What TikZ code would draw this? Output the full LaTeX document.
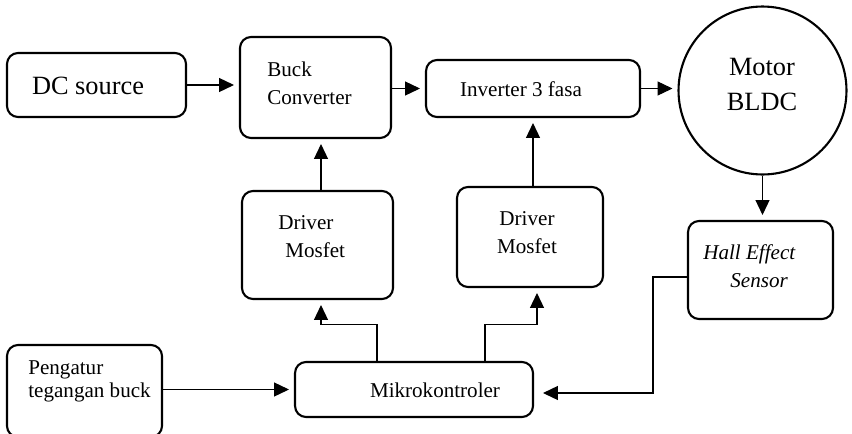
\documentclass[tikz,border=0pt]{standalone}
\usepackage{fontspec}
\setmainfont{Liberation Serif}
\usetikzlibrary{arrows.meta}
\tikzset{
  box/.style={draw, line width=1.2pt, rounded corners=0.22cm, inner sep=0pt},
  arr/.style={-{Triangle[length=8.5pt,width=8pt]}, line width=0.6pt, shorten >=0.1cm},
  txt/.style={font=\fontsize{12}{16}\selectfont, inner sep=0pt},
  bigtxt/.style={font=\fontsize{15}{20}\selectfont, inner sep=0pt}
}
\begin{document}
\begin{tikzpicture}[x=0.02cm,y=-0.02cm]
\useasboundingbox (0,0) rectangle (852,433);
\node[box, minimum width=3.58cm, minimum height=1.28cm] (dc) at (96.5,85) {};
\node[box, minimum width=3.02cm, minimum height=2.02cm] (buck) at (315.5,87.5) {};
\node[box, minimum width=4.28cm, minimum height=1.14cm] (inv) at (533,88.5) {};
\node[draw, circle, line width=1.2pt, minimum size=3.36cm, inner sep=0pt] (motor) at (762.5,90.5) {};
\node[box, minimum width=2.9cm, minimum height=1.96cm] (hall) at (760.5,270) {};
\node[box, minimum width=3.02cm, minimum height=2.16cm] (drv1) at (317.5,245) {};
\node[box, minimum width=2.92cm, minimum height=2cm] (drv2) at (530,237) {};
\node[box, minimum width=4.76cm, minimum height=1.1cm] (mcu) at (414,389.5) {};
\node[box, minimum width=3.1cm, minimum height=1.84cm] (reg) at (84.5,391) {};
\node[bigtxt] (dc-t) at (88,86) {DC source};
\node[txt, anchor=west, align=left] (buck-t) at (267,83) {Buck\\Converter};
\node[txt] (inv-t) at (521,89) {Inverter 3 fasa};
\node[bigtxt, align=center] (motor-t) at (762,84.5) {Motor\\BLDC};
\node[txt, anchor=west, align=left, font=\fontsize{12}{16}\selectfont\itshape] (hall-t) at (703,266) {Hall Effect\\\hspace*{0.54cm}Sensor};
\node[txt, anchor=west, align=left] (drv1-t) at (278,236.5) {Driver\\\hspace*{0.14cm}Mosfet};
\node[txt, align=center] (drv2-t) at (527,233) {Driver\\Mosfet};
\node[txt] (mcu-t) at (435,390) {Mikrokontroler};
\node[txt, anchor=west, align=left, font=\fontsize{12}{13}\selectfont] (reg-t) at (28,381.5) {Pengatur\\tegangan buck};
\draw[arr] (dc.east) -- (dc.east -| buck.west);
\draw[arr] (inv.west -| buck.east) -- (inv.west);
\draw[arr] (inv.east) -- (inv.east -| motor.west);
\draw[arr] (motor.south) -- (motor.south |- hall.north);
\draw[arr] ([xshift=0.07cm]drv1.north) -- ([xshift=0.07cm]drv1.north |- buck.south);
\draw[arr] (inv.south |- drv2.north) -- (inv.south);
\draw[arr] ([xshift=-0.74cm]mcu.north) -- ++(0,0.72cm) -| ([xshift=0.07cm]drv1.south);
\draw[arr] ([xshift=1.42cm]mcu.north) -- ++(0,0.72cm) -| ([xshift=0.14cm]drv2.south);
\draw[arr] (mcu.west -| reg.east) -- (mcu.west);
\draw[arr, shorten >=0.18cm] ([yshift=-0.14cm]hall.west) -- ++(-0.68cm,0) |- ([yshift=-0.07cm]mcu.east);
\end{tikzpicture}
\end{document}
